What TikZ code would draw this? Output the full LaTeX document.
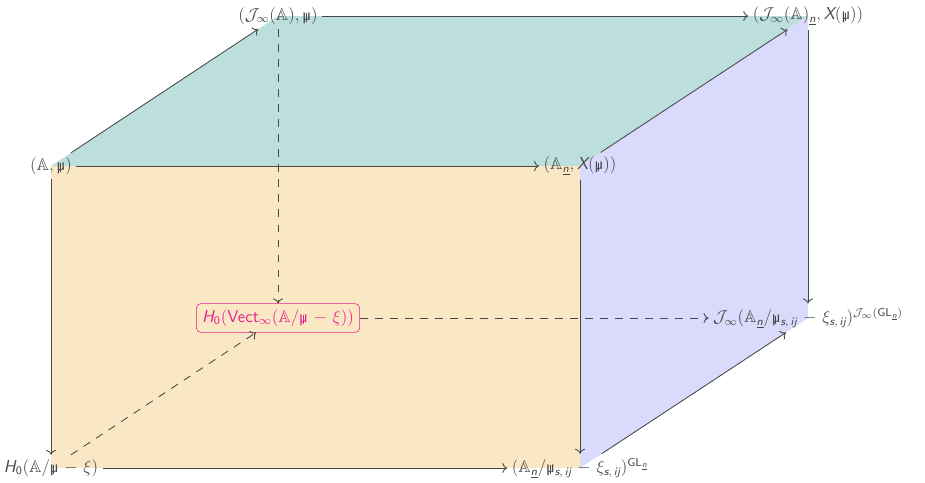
\documentclass[tikz,border=0pt]{standalone}
\usepackage{amsmath}
\usepackage{amssymb}
\usepackage{tikz}
\usetikzlibrary{positioning,arrows.meta,backgrounds}
\usepackage{xcolor}

\definecolor{topface}{RGB}{188,222,220}
\definecolor{frontface}{RGB}{250,232,196}
\definecolor{sideface}{RGB}{218,218,252}
\definecolor{hilite}{RGB}{232,30,145}
\definecolor{ink}{RGB}{72,72,72}

\newcommand{\si}[1]{\textsf{\itshape #1}}
\newcommand{\nn}{\underline{\si{n}}}
\newcommand{\sij}{\si{s},\mkern3mu\si{ij}}
\newcommand{\mn}{\mathbin{\mkern2mu-\mkern2mu}}
\newcommand{\bbmu}{\mathord{\text{\sffamily\upshape\ooalign{µ\cr
  \hskip0.2em\vrule width0.035em height0.95ex depth0.2ex\hss\cr}}}}

\begin{document}
\begin{tikzpicture}[
  font=\large\sffamily,>={To[length=3.5pt,width=7pt]},
  obj/.style={text=ink,inner sep=3pt},
  hobj/.style={obj,text=hilite,draw=hilite,rounded corners=3pt,inner sep=4pt},
  arr/.style={->,ink,semithick},
  darr/.style={arr,dash pattern=on 5.5pt off 5pt},
]
  \useasboundingbox (0,0) rectangle (22.718,-11.862);

  \node[obj] (a) at (1.253,-4.077)  {$(\mathbb{A},\bbmu)$};
  \node[obj] (b) at (14.245,-4.077) {$(\mathbb{A}_{\nn},\si{X}(\bbmu))$};
  \node[obj] (c) at (6.828,-0.393)  {$(\mathcal{J}_\infty(\mathbb{A}),\bbmu)$};
  \node[obj] (d) at (19.844,-0.393) {$(\mathcal{J}_\infty(\mathbb{A})_{\nn},\si{X}(\bbmu))$};
  \node[obj] (e) at (1.253,-11.494) {$\si{H}_{\mathsf{0}}(\mathbb{A}/\bbmu\mn\xi)$};
  \node[obj] (f) at (14.245,-11.494)
    {$(\mathbb{A}_{\nn}/\bbmu_{\sij}\mn\xi_{\sij})^{\mathsf{GL}_{\nn}}$};
  \node[hobj] (g) at (6.828,-7.810) {$\si{H}_{\mathsf{0}}(\mathsf{Vect}_\infty(\mathbb{A}/\bbmu\mn\xi))$};
  \node[obj] (h) at (19.844,-7.810)
    {$\mathcal{J}_\infty(\mathbb{A}_{\nn}/\bbmu_{\sij}\mn\xi_{\sij})^{\mathcal{J}_\infty(\mathsf{GL}_{\nn})}$};

  \begin{scope}[on background layer]
    \fill[topface]   (a.center) -- (c.center) -- (d.center) -- (b.center) -- cycle;
    \fill[frontface] (a.center) -- (b.center) -- (f.center) -- (e.center) -- cycle;
    \fill[sideface]  (b.center) -- (d.center) -- (h.center) -- (f.center) -- cycle;
  \end{scope}

  \draw[arr] (a) -- (b);
  \draw[arr] (c) -- (d);
  \draw[arr] (a) -- (c);
  \draw[arr] (b) -- (d);
  \draw[arr] (a) -- (e);
  \draw[arr] (b) -- (f);
  \draw[arr] (d) -- (h);
  \draw[arr] (e) -- (f);
  \draw[arr] (f) -- (h);
  \draw[darr] (c) -- (g);
  \draw[darr] (e) -- (g);
  \draw[darr] (g) -- (h);
\end{tikzpicture}
\end{document}
